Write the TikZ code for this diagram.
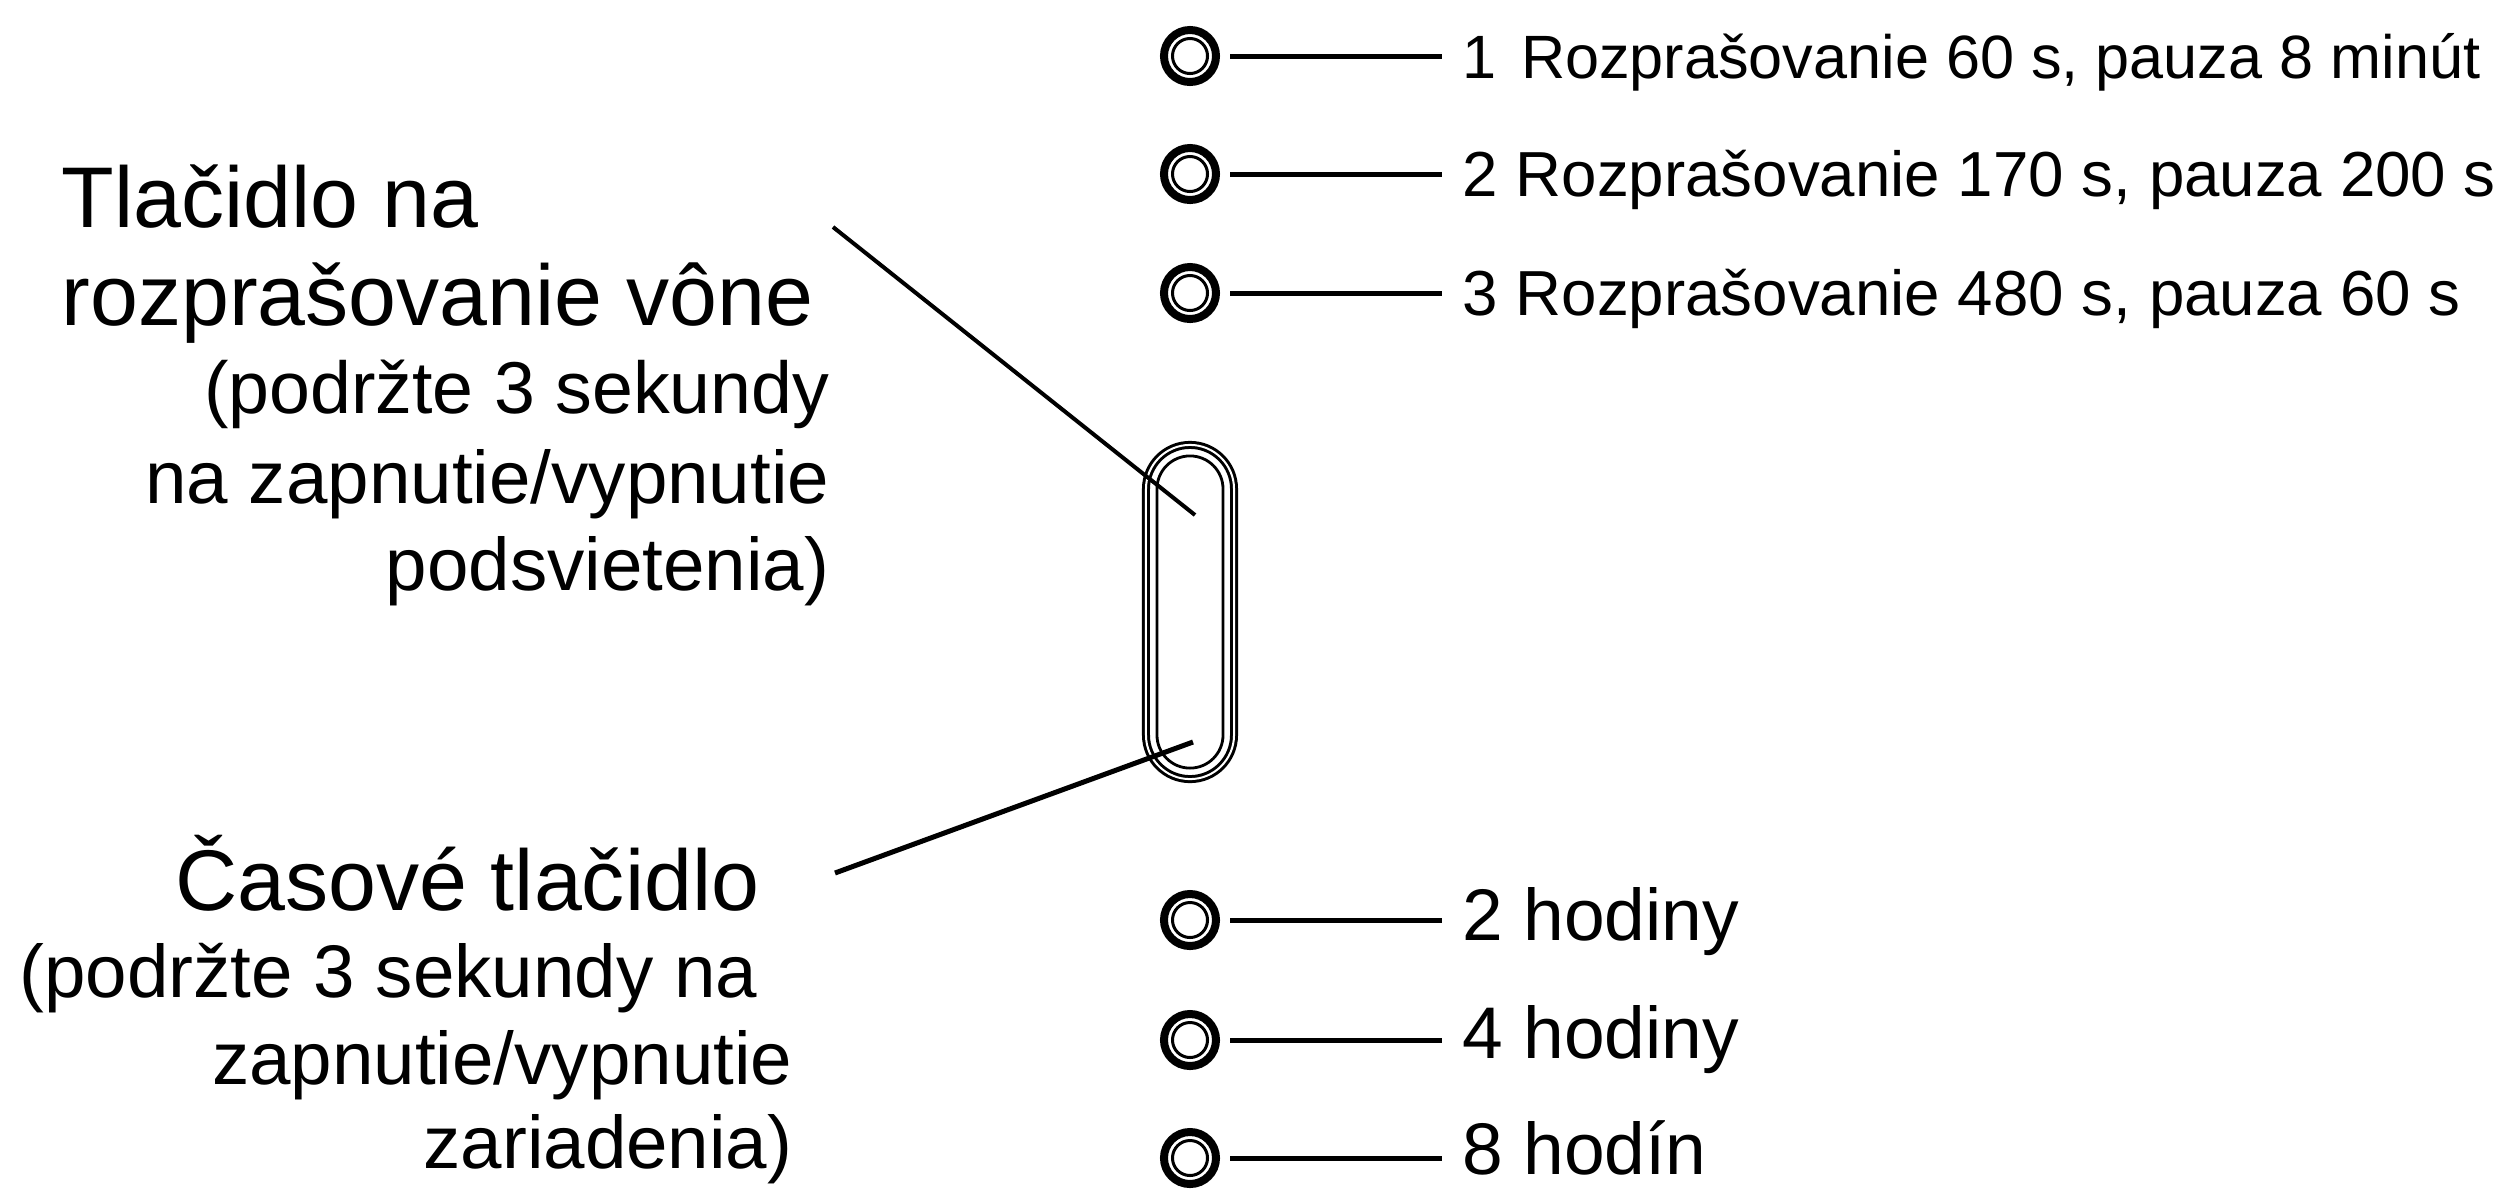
\documentclass[tikz,border=0pt]{standalone}
\usepackage{fontspec}
\setmainfont{Liberation Sans}
\usetikzlibrary{calc}

\begin{document}
\begin{tikzpicture}[x=0.01cm,y=-0.01cm,
    led/.style={circle,draw,line width=0.08cm,minimum size=0.52cm,inner sep=0pt,
      path picture={\draw[line width=0.03cm] (path picture bounding box.center) circle[radius=0.175cm];}},
    leader/.style={line width=0.05cm},
    pointer/.style={line width=0.04cm},
    mode/.style={anchor=base west,inner sep=0pt,font=\fontsize{18.1}{21}\selectfont},
    hours/.style={anchor=base west,inner sep=0pt,font=\fontsize{20.8}{24}\selectfont},
    title/.style={anchor=base west,inner sep=0pt,font=\fontsize{24.5}{29}\selectfont},
    note/.style={anchor=base east,inner sep=0pt,font=\fontsize{21.2}{25}\selectfont}]
  \useasboundingbox (0,0) rectangle (2517,1190);
  % spray mode indicators
  \foreach \i/\y/\yt/\txt in {1/56/78/{\fontsize{17.4}{21}\selectfont 1\hspace{0.4em}Rozprašovanie 60 s, pauza 8 minút},
      2/174/196/{2 Rozprašovanie 170 s, pauza 200 s},
      3/293/315/{3 Rozprašovanie 480 s, pauza 60 s}} {
    \node[led] (led\i) at (1190,\y) {};
    \node[mode] (mode\i) at (1462,\yt) {\txt};
    \draw[leader,shorten <=0.1cm,shorten >=0.2cm] (led\i.east) -- (led\i.east -| mode\i.west);
  }
  % timer indicators
  \foreach \i/\y/\yt/\txt in {4/920/940/{2 hodiny},5/1040/1058/{4 hodiny},6/1158/1174/{8 hodín}} {
    \node[led] (led\i) at (1190,\y) {};
    \node[hours] (hours\i) at (1462,\yt) {\txt};
    \draw[leader,shorten <=0.1cm,shorten >=0.2cm] (led\i.east) -- (led\i.east -| hours\i.west);
  }
  % button
  \node[draw,line width=0.03cm,double,double distance=0.02cm,minimum width=0.88cm,
    minimum height=3.34cm,rounded corners=0.44cm,inner sep=0pt] (btn) at (1190,612) {};
  \node[draw,line width=0.028cm,minimum width=0.66cm,minimum height=3.12cm,
    rounded corners=0.33cm,inner sep=0pt] (btninner) at (btn.center) {};
  % labels on the left
  \node[title] (spray1) at (61,227) {Tlačidlo na};
  \node[title] (spray2) at (61,325) {rozprašovanie vône};
  \node[note,font=\fontsize{20.9}{25}\selectfont] (spray3) at (830,413) {(podržte 3 sekundy};
  \node[note] (spray4) at (830,503) {na zapnutie/vypnutie};
  \node[note] (spray5) at (830,590) {podsvietenia)};
  \node[title,anchor=base east] (timer1) at (760,910) {Časové tlačidlo};
  \node[note,anchor=base west] (timer2) at (19,997) {(podržte 3 sekundy na};
  \node[note] (timer3) at (793,1084) {zapnutie/vypnutie};
  \node[note] (timer4) at (793,1168) {zariadenia)};
  % pointers to the button
  \coordinate (sprayfrom) at (833,227);
  \coordinate (sprayto) at ($(btn.center)+(5,-97)$);
  \coordinate (timerfrom) at (835,873);
  \coordinate (timerto) at ($(btn.center)+(3,130)$);
  \draw[pointer] (sprayfrom) -- (sprayto);
  \draw[leader] (timerfrom) -- (timerto);
\end{tikzpicture}
\end{document}
